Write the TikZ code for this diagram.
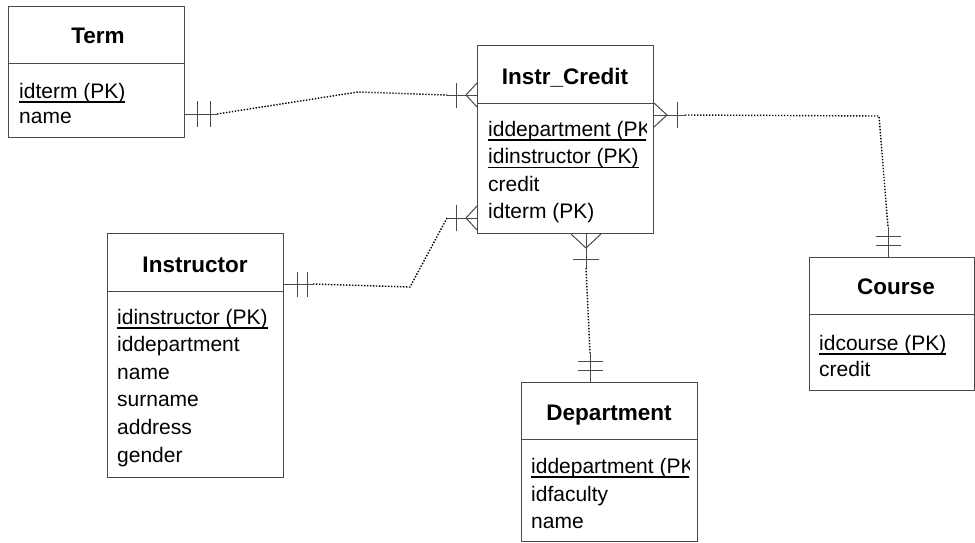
\documentclass[tikz,border=0pt]{standalone}
\usepackage{fontspec}
\setmainfont{Liberation Sans}
\usetikzlibrary{calc}
\definecolor{boxc}{HTML}{4A4A4A}
\newcommand\pkline[1]{\setbox0=\hbox{#1}\rlap{\rule[-4.5pt]{\wd0}{1.5pt}}\box0}
\begin{document}
\begin{tikzpicture}[x=1pt,y=-1pt,
  entity/.style={draw=boxc, line width=1pt, rectangle, inner sep=0pt, anchor=north west},
  divider/.style={draw=boxc, line width=1pt},
  title/.style={font=\fontsize{22.5}{26}\selectfont\bfseries, anchor=base, inner sep=0pt},
  attr/.style={font=\fontsize{21}{24}\selectfont, anchor=base west, inner sep=0pt},
  solidc/.style={draw=boxc, line width=1pt},
  dotc/.style={draw=black, line width=1.4pt, dash pattern=on 1.4pt off 1.6pt}]
\useasboundingbox (0,0) rectangle (975,542);

% ---------- Term ----------
\node[entity, minimum width=176pt, minimum height=131pt] (term) at (8,6) {};
\draw[divider] (term.west |- 0,63) -- (term.east |- 0,63);
\node[title] (termT) at (98,43) {Term};
\node[attr] (termA1) at (19,98) {\pkline{idterm (PK)}};
\node[attr] (termA2) at (19,123) {name};

% ---------- Instr_Credit ----------
\node[entity, minimum width=176pt, minimum height=188pt] (ic) at (477,45) {};
\draw[divider] (ic.west |- 0,103) -- (ic.east |- 0,103);
\node[title] (icT) at (565,84) {Instr\_Credit};
\begin{scope}
  \clip (477,104) rectangle (646,232);
  \node[attr] (icA1) at (488,136) {\pkline{iddepartment (PK)}};
\end{scope}
\node[attr] (icA2) at (488,163.5) {\pkline{idinstructor (PK)}};
\node[attr] (icA3) at (488,191) {credit};
\node[attr] (icA4) at (488,218.5) {idterm (PK)};

% ---------- Instructor ----------
\node[entity, minimum width=176pt, minimum height=244pt] (instr) at (107,233) {};
\draw[divider] (instr.west |- 0,291) -- (instr.east |- 0,291);
\node[title] (instrT) at (195,272) {Instructor};
\node[attr] (instrA1) at (117,324) {\pkline{idinstructor (PK)}};
\node[attr] (instrA2) at (117,351.6) {iddepartment};
\node[attr] (instrA3) at (117,379.2) {name};
\node[attr] (instrA4) at (117,406.8) {surname};
\node[attr] (instrA5) at (117,434.4) {address};
\node[attr] (instrA6) at (117,462) {gender};

% ---------- Course ----------
\node[entity, minimum width=165pt, minimum height=133pt] (course) at (809,257) {};
\draw[divider] (course.west |- 0,314) -- (course.east |- 0,314);
\node[title] (courseT) at (896,294) {Course};
\node[attr] (courseA1) at (819,350) {\pkline{idcourse (PK)}};
\node[attr] (courseA2) at (819,376) {credit};

% ---------- Department ----------
\node[entity, minimum width=176pt, minimum height=159pt] (dept) at (521,382) {};
\draw[divider] (dept.west |- 0,439) -- (dept.east |- 0,439);
\node[title] (deptT) at (609,420) {Department};
\begin{scope}
  \clip (521,440) rectangle (689,540);
  \node[attr] (deptA1) at (531,473) {\pkline{iddepartment (PK)}};
\end{scope}
\node[attr] (deptA2) at (531,501) {idfaculty};
\node[attr] (deptA3) at (531,528) {name};

% ---------- Term -- Instr_Credit ----------
\coordinate (tA) at (term.east |- 0,114);
\coordinate (tB) at (217,114);
\coordinate (tM) at (358,92);
\coordinate (tC) at (447,95);
\coordinate (tD) at (ic.west |- 0,95);
\coordinate (tX) at (466,95);
\draw[solidc] (tA) -- (tB);
\draw[solidc] (197,101) -- (197,127);
\draw[solidc] (210,101) -- (210,127);
\draw[dotc] (tB) -- (tM) -- (tC);
\draw[solidc] (tC) -- (tD);
\draw[solidc] (456,82.5) -- (456,107.5);
\draw[solidc] (ic.west |- 0,83) -- (tX) -- (ic.west |- 0,107);

% ---------- Instructor -- Instr_Credit ----------
\coordinate (iA) at (instr.east |- 0,284);
\coordinate (iB) at (313,284);
\coordinate (iM) at (410,287);
\coordinate (iC) at (447,218);
\coordinate (iD) at (ic.west |- 0,218);
\coordinate (iX) at (466,218);
\draw[solidc] (iA) -- (iB);
\draw[solidc] (297,271.5) -- (297,296.5);
\draw[solidc] (307,271.5) -- (307,296.5);
\draw[dotc] (iB) -- (iM) -- (iC);
\draw[solidc] (iC) -- (iD);
\draw[solidc] (456,205) -- (456,231);
\draw[solidc] (ic.west |- 0,206) -- (iX) -- (ic.west |- 0,230);

% ---------- Instr_Credit -- Course ----------
\coordinate (cA) at (ic.east |- 0,115);
\coordinate (cX) at (667,115);
\coordinate (cB) at (685,115);
\coordinate (cM) at (879,116);
\coordinate (cC) at (888,227);
\coordinate (cD) at (course.north -| 888,0);
\draw[solidc] (ic.east |- 0,103) -- (cX) -- (ic.east |- 0,127);
\draw[solidc] (cA) -- (cB);
\draw[solidc] (677,102) -- (677,128);
\draw[dotc] (cB) -- (cM) -- (cC);
\draw[solidc] (cC) -- (cD);
\draw[solidc] (875.5,236) -- (900.5,236);
\draw[solidc] (875.5,245) -- (900.5,245);

% ---------- Instr_Credit -- Department ----------
\coordinate (dA) at (ic.south -| 586,0);
\coordinate (dX) at (586,248);
\coordinate (dB) at (586,268);
\coordinate (dC) at (590,353);
\coordinate (dD) at (dept.north -| 590,0);
\draw[solidc] (ic.south -| 571,0) -- (dX) -- (ic.south -| 601,0);
\draw[solidc] (dA) -- (dB);
\draw[solidc] (573,259) -- (599,259);
\draw[dotc] (dB) -- (dC);
\draw[solidc] (dC) -- (dD);
\draw[solidc] (577.5,361) -- (602.5,361);
\draw[solidc] (577.5,370) -- (602.5,370);
\end{tikzpicture}
\end{document}
